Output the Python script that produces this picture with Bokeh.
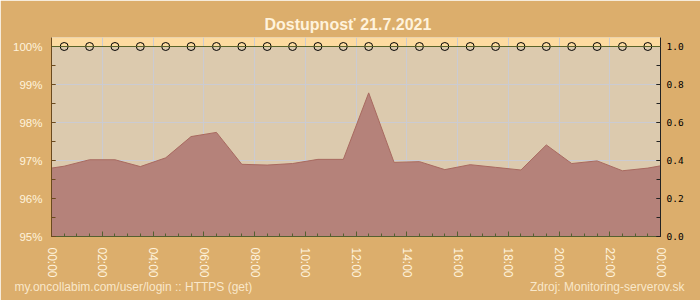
from bokeh.plotting import figure
from bokeh.models import (Range1d, LinearAxis, FixedTicker, NumeralTickFormatter,
                          BoxAnnotation, Span, Title)
from bokeh.embed import file_html
from bokeh.resources import INLINE

# ---- data ----
title_text = "Dostupnosť 21.7.2021"
footer_left = "my.oncollabim.com/user/login :: HTTPS (get)"
footer_right = "Zdroj: Monitoring-serverov.sk"

area_hours = [0, 0.5, 1.5, 2.5, 3.5, 4.5, 5.5, 6.5, 7.5, 8.5, 9.5, 10.5, 11.5,
              12.5, 13.5, 14.5, 15.5, 16.5, 17.5, 18.5, 19.5, 20.5, 21.5, 22.5,
              23.5, 24]
area_values = [96.80, 96.85, 97.02, 97.02, 96.84, 97.07, 97.63, 97.74, 96.90,
               96.88, 96.92, 97.03, 97.03, 98.78, 96.95, 96.97, 96.76, 96.89,
               96.82, 96.75, 97.41, 96.92, 96.99, 96.73, 96.80, 96.86]

avail_hours = [h + 0.5 for h in range(24)]
avail_values = [1.0] * 24

x_ticks = list(range(0, 25, 2))
x_labels = ["00:00", "02:00", "04:00", "06:00", "08:00", "10:00", "12:00",
            "14:00", "16:00", "18:00", "20:00", "22:00", "00:00"]
y_ticks = [95, 96, 97, 98, 99, 100]
y_labels = ["95%", "96%", "97%", "98%", "99%", "100%"]
r_ticks = [0.0, 0.2, 0.4, 0.6, 0.8, 1.0]

# ---- styles ----
OUTER = "#dcae6c"
INNER = "#dccaae"
BAND = "#fddba0"
FILL = "#b5827a"
EDGE = "#a86a60"
GRID = "#cbcbd2"
CREAM = "#fff3dc"
FONT = "Liberation Sans"

y_lo, y_hi = 95, 100.237

p = figure(width=700, height=300, x_range=Range1d(0, 24), y_range=Range1d(y_lo, y_hi),
           output_backend="svg", toolbar_location=None,
           min_border_left=51, min_border_right=40, min_border_top=37,
           min_border_bottom=64, x_axis_location=None, y_axis_location=None)
p.border_fill_color = OUTER
p.background_fill_color = INNER
p.outline_line_color = None

p.extra_y_ranges = {"r": Range1d((y_lo - 95) / 5, (y_hi - 95) / 5)}

# grids
p.xgrid.ticker = FixedTicker(ticks=x_ticks)
p.ygrid.ticker = FixedTicker(ticks=y_ticks)
for g in (p.xgrid, p.ygrid):
    g.grid_line_color = GRID
    g.grid_line_width = 1

band = BoxAnnotation(bottom=100, fill_color=BAND, fill_alpha=1, line_color=None,
                     level="image")
p.add_layout(band)

# area series
p.varea(x=area_hours, y1=y_lo, y2=area_values, fill_color=FILL, fill_alpha=1)
p.line(x=area_hours, y=area_values, line_color=EDGE, line_width=1)

# availability series
p.add_layout(Span(location=100, dimension="width", line_color="#5a6428", line_width=1))
p.scatter(x=avail_hours, y=avail_values, y_range_name="r", marker="circle", size=8,
          fill_alpha=0, line_color="black", line_width=1)

# axes
xa = LinearAxis(ticker=FixedTicker(ticks=x_ticks,
                                   minor_ticks=[h / 2 for h in range(49)]))
xa.major_label_overrides = {t: l for t, l in zip(x_ticks, x_labels)}
xa.major_label_orientation = "vertical"
xa.axis_line_color = "#556030"
xa.major_tick_line_color = "#556030"
xa.minor_tick_line_color = "#556030"
xa.major_tick_in = 5
xa.major_tick_out = 0
xa.minor_tick_in = 3
xa.minor_tick_out = 0
xa.major_label_standoff = 11
xa.major_label_text_color = CREAM
xa.major_label_text_font = FONT
xa.major_label_text_font_size = "12px"
p.add_layout(xa, "below")

ya = LinearAxis(ticker=FixedTicker(ticks=y_ticks,
                                   minor_ticks=[95 + i / 2 for i in range(11)]))
ya.major_label_overrides = {t: l for t, l in zip(y_ticks, y_labels)}
ya.axis_line_color = "#6b4a1e"
ya.major_tick_line_color = "#6b4a1e"
ya.minor_tick_line_color = "#6b4a1e"
ya.major_tick_in = 4
ya.major_tick_out = 0
ya.minor_tick_in = 4
ya.minor_tick_out = 0
ya.major_label_standoff = 9
ya.major_label_text_color = CREAM
ya.major_label_text_font = FONT
ya.major_label_text_font_size = "11.5px"
p.add_layout(ya, "left")

ra = LinearAxis(y_range_name="r",
                ticker=FixedTicker(ticks=r_ticks, minor_ticks=[i / 10 for i in range(11)]),
                formatter=NumeralTickFormatter(format="0.0"))
ra.axis_line_color = "#222222"
ra.major_tick_line_color = "#222222"
ra.minor_tick_line_color = "#222222"
ra.major_tick_in = 4
ra.major_tick_out = 0
ra.minor_tick_in = 4
ra.minor_tick_out = 0
ra.major_label_standoff = 6
ra.major_label_text_color = "black"
ra.major_label_text_font = "DejaVu Sans Mono"
ra.major_label_text_font_size = "9.5px"
p.add_layout(ra, "right")

# title
p.title.text = title_text
p.title.align = "left"
p.title.offset = 213
p.title.text_color = CREAM
p.title.text_font = FONT
p.title.text_font_style = "bold"
p.title.text_font_size = "16px"

# footers as titles below the axis, sharing one row
t_left = Title(text=footer_left, align="left", offset=-37, standoff=-27,
               text_color=CREAM, text_alpha=0.85, text_font=FONT,
               text_font_style="normal", text_font_size="12px")
p.add_layout(t_left, "below")
t_right = Title(text=footer_right, align="right", offset=-24, standoff=-27,
                text_color=CREAM, text_alpha=0.85, text_font=FONT,
                text_font_style="normal", text_font_size="12px")
p.add_layout(t_right, "below")

open("out.html", "w").write(file_html(p, INLINE))
